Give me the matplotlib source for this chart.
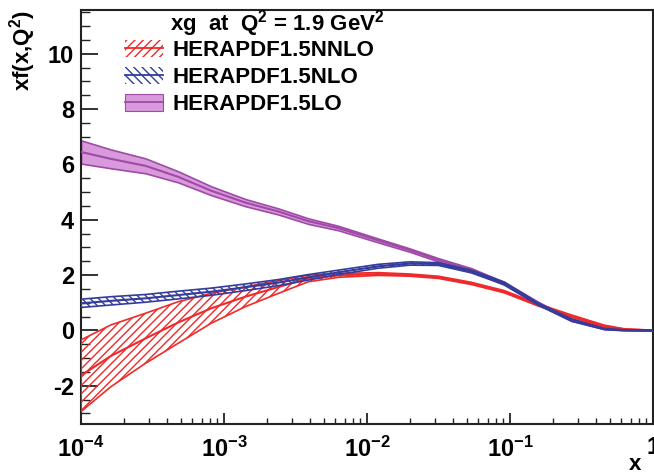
import matplotlib
matplotlib.use("Agg")
import matplotlib.pyplot as plt
import numpy as np
from matplotlib.patches import Patch
from matplotlib.lines import Line2D
from matplotlib.ticker import LogLocator, MultipleLocator, NullFormatter

plt.rcParams['font.family'] = ['Liberation Sans', 'DejaVu Sans']
plt.rcParams['font.weight'] = 'bold'
plt.rcParams['mathtext.fontset'] = 'custom'
plt.rcParams['mathtext.rm'] = 'Liberation Sans:bold'
plt.rcParams['mathtext.bf'] = 'Liberation Sans:bold'
plt.rcParams['mathtext.it'] = 'Liberation Sans:bold:italic'
plt.rcParams['hatch.linewidth'] = 1.0

# ---- data ----
x = [1.0e-4, 1.62e-4, 2.82e-4, 4.79e-4, 8.13e-4, 1.41e-3, 2.40e-3, 3.89e-3,
     6.31e-3, 1.20e-2, 2.00e-2, 3.16e-2, 5.37e-2, 9.12e-2, 0.158, 0.269,
     0.457, 0.631, 1.0]

nnlo_c = [-1.63, -0.92, -0.29, 0.29, 0.80, 1.22, 1.57, 1.88,
          1.99, 2.04, 2.00, 1.92, 1.70, 1.40, 0.92, 0.52,
          0.16, 0.04, 0.00]
nnlo_up = [-0.34, 0.20, 0.62, 1.04, 1.34, 1.58, 1.80, 2.00,
           2.06, 2.09, 2.04, 1.96, 1.74, 1.44, 0.96, 0.56,
           0.19, 0.06, 0.01]
nnlo_lo = [-2.93, -2.03, -1.19, -0.46, 0.26, 0.86, 1.34, 1.76,
           1.92, 1.99, 1.96, 1.88, 1.66, 1.36, 0.88, 0.48,
           0.13, 0.02, -0.01]

nlo_c = [0.98, 1.07, 1.16, 1.28, 1.40, 1.56, 1.73, 1.92,
         2.10, 2.32, 2.42, 2.40, 2.13, 1.70, 0.95, 0.38,
         0.05, 0.01, 0.00]
nlo_err = [0.15, 0.15, 0.14, 0.14, 0.13, 0.12, 0.11, 0.10,
           0.08, 0.07, 0.06, 0.05, 0.05, 0.05, 0.04, 0.04,
           0.02, 0.01, 0.01]

lo_c = [6.45, 6.20, 5.95, 5.55, 5.05, 4.62, 4.30, 3.95,
        3.70, 3.25, 2.90, 2.55, 2.20, 1.70, 0.98, 0.38,
        0.08, 0.02, 0.00]
lo_err = [0.42, 0.34, 0.27, 0.20, 0.16, 0.13, 0.11, 0.10,
          0.08, 0.07, 0.06, 0.06, 0.05, 0.05, 0.05, 0.04,
          0.03, 0.02, 0.01]

labels = ['HERAPDF1.5NNLO', 'HERAPDF1.5NLO', 'HERAPDF1.5LO']
title_txt = r'xg  at  Q$^{2}$ = 1.9 GeV$^{2}$'
xticks = [1e-4, 1e-3, 1e-2, 1e-1, 1]
xticklabels = [r'$10^{-4}$', r'$10^{-3}$', r'$10^{-2}$', r'$10^{-1}$', '1']
yticks = [-2, 0, 2, 4, 6, 8, 10]

red = '#ee2a2a'
blue = '#343c9c'
purple = '#a04aa8'
purple_fill = '#d89adb'

W, H = 654, 474
fig = plt.figure(figsize=(W / 100, H / 100), dpi=100)
ax = fig.add_axes([81 / W, (H - 424) / H, 572 / W, 414 / H])

xa = np.array(x)
# LO: solid band
lo_c_a = np.array(lo_c); lo_e = np.array(lo_err)
ax.fill_between(xa, lo_c_a - lo_e, lo_c_a + lo_e, facecolor=purple_fill,
                edgecolor=purple, linewidth=1.2, zorder=2)
ax.plot(xa, lo_c_a, color=purple, lw=1.5, zorder=3)

# NNLO: hatched band
ax.fill_between(xa, nnlo_lo, nnlo_up, facecolor='none', edgecolor=red,
                hatch='////', linewidth=1.2, zorder=4)
ax.plot(xa, nnlo_c, color=red, lw=1.5, zorder=4)

# NLO: hatched band
nlo_c_a = np.array(nlo_c); nlo_e = np.array(nlo_err)
ax.fill_between(xa, nlo_c_a - nlo_e, nlo_c_a + nlo_e, facecolor='none',
                edgecolor=blue, hatch='\\\\\\\\', linewidth=1.2, zorder=5)
ax.plot(xa, nlo_c_a, color=blue, lw=1.5, zorder=5)

ax.set_xscale('log')
ax.set_xlim(1e-4, 1)
ax.set_ylim(-3.38, 11.58)

ax.set_xticks(xticks)
ax.set_xticklabels(xticklabels)
ax.xaxis.set_minor_locator(LogLocator(base=10, subs=np.arange(2, 10), numticks=20))
ax.xaxis.set_minor_formatter(NullFormatter())
ax.set_yticks(yticks)
ax.set_yticklabels([str(v) for v in yticks])
ax.yaxis.set_minor_locator(MultipleLocator(0.5))

ax.tick_params(axis='both', which='both', direction='in', colors='#222222',
               labelsize=17, labelcolor='black')
ax.tick_params(axis='y', which='major', length=12, width=1.3, pad=5)
ax.tick_params(axis='y', which='minor', length=6.5, width=1.0)
ax.tick_params(axis='x', which='major', length=8, width=1.3, pad=9)
ax.tick_params(axis='x', which='minor', length=4.5, width=1.0)
for lab in ax.get_xticklabels() + ax.get_yticklabels():
    lab.set_fontweight('bold')

for s in ax.spines.values():
    s.set_linewidth(1.5)
    s.set_color('#222222')

# legend
h1 = (Patch(facecolor='none', edgecolor=red, hatch='////', linewidth=0),
      Line2D([], [], color=red, lw=1.3))
h2 = (Patch(facecolor='none', edgecolor=blue, hatch='\\\\\\\\', linewidth=0),
      Line2D([], [], color=blue, lw=1.3))
h3 = (Patch(facecolor=purple_fill, edgecolor=purple, linewidth=0.8),
      Line2D([], [], color=purple, lw=1.3))
leg = ax.legend([h1, h2, h3], labels, loc='upper left',
                bbox_to_anchor=((125 - 81) / 572, 1 - (40 - 10) / 414),
                frameon=False, borderpad=0, borderaxespad=0,
                handlelength=1.7, handleheight=0.8, handletextpad=0.45,
                labelspacing=0.25, prop={'size': 16, 'weight': 'bold'})

ax.text((170 - 81) / 572, 1 - (24 - 10) / 414, title_txt, transform=ax.transAxes,
        ha='left', va='center', fontsize=16, fontweight='bold')

fig.text(23 / W, 1 - 10 / H, r'xf(x,Q$^{2}$)', rotation=90, ha='center', va='top',
         fontsize=16, fontweight='bold')
fig.text(635 / W, 1 - 465 / H, 'x', ha='center', va='center',
         fontsize=16, fontweight='bold')

fig.savefig('out.png', dpi=100)
